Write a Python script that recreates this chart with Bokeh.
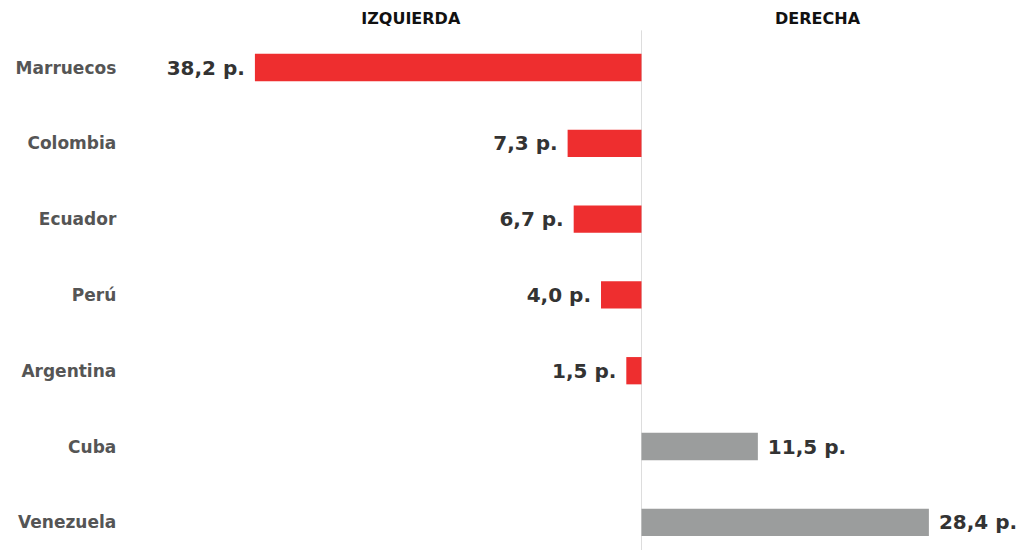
from bokeh.plotting import figure
from bokeh.models import Range1d, ColumnDataSource
from bokeh.core.properties import value
from bokeh.embed import file_html
from bokeh.resources import INLINE

countries = ["Marruecos", "Colombia", "Ecuador", "Perú", "Argentina", "Cuba", "Venezuela"]
values = [-38.2, -7.3, -6.7, -4.0, -1.5, 11.5, 28.4]
labels = ["38,2 p.", "7,3 p.", "6,7 p.", "4,0 p.", "1,5 p.", "11,5 p.", "28,4 p."]
headers = ["IZQUIERDA", "DERECHA"]

RED = "#EE2E2F"
GRAY = "#9B9D9D"
FONT = "DejaVu Sans"

idx = list(range(len(countries)))
colors = [RED if v < 0 else GRAY for v in values]
left = [min(v, 0) for v in values]
right = [max(v, 0) for v in values]

src = ColumnDataSource(dict(y=idx, left=left, right=right, color=colors,
                            country=countries, label=labels, v=values))

W, H = 1022, 550
p = figure(width=W, height=H, output_backend="svg", toolbar_location=None,
           x_range=Range1d(-63.34, 37.65), y_range=Range1d(6.372, -0.884),
           min_border=0, min_border_left=0, min_border_right=0,
           min_border_top=0, min_border_bottom=0)
p.axis.visible = False
p.grid.visible = False
p.outline_line_color = None
p.background_fill_color = "white"
p.border_fill_color = "white"

# zero line
p.segment(x0=[0], y0=[-0.49], x1=[0], y1=[6.5], line_color="#DDDDDD", line_width=1)

p.hbar(y="y", left="left", right="right", height=0.36, fill_color="color",
       line_color=None, source=src)

neg = ColumnDataSource(dict(y=[i for i, v in zip(idx, values) if v < 0],
                            x=[v for v in values if v < 0],
                            t=[l for l, v in zip(labels, values) if v < 0]))
pos = ColumnDataSource(dict(y=[i for i, v in zip(idx, values) if v >= 0],
                            x=[v for v in values if v >= 0],
                            t=[l for l, v in zip(labels, values) if v >= 0]))

p.text(x="x", y="y", text="t", source=neg, x_offset=-10, text_align="right",
       text_baseline="middle", text_font=value(FONT), text_font_style="bold",
       text_font_size="20px", text_color="#333333")
p.text(x="x", y="y", text="t", source=pos, x_offset=10, text_align="left",
       text_baseline="middle", text_font=value(FONT), text_font_style="bold",
       text_font_size="20px", text_color="#333333")

# category labels
p.text(x=[-51.9] * len(countries), y=idx, text=countries, text_align="right",
       text_baseline="middle", text_font=value(FONT), text_font_style="bold",
       text_font_size="17px", text_color="#555555")

# headers
p.text(x=[-22.8, 17.4], y=[-0.646, -0.646], text=headers, text_align="center",
       text_baseline="middle", text_font=value(FONT), text_font_style="bold",
       text_font_size="16px", text_color="#111111")

open("out.html", "w").write(file_html(p, INLINE))
